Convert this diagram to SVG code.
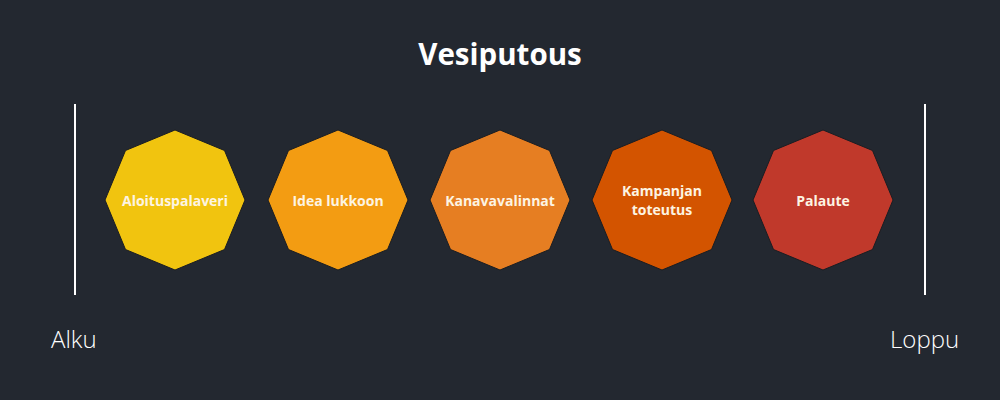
<svg xmlns="http://www.w3.org/2000/svg" width="1000" height="400" viewBox="0 0 1000 400">
<style>
.bg{fill:#232830}
.oct{stroke:#1a1d22;stroke-width:1}
.lbl{font-family:"Open Sans","Liberation Sans",sans-serif;font-weight:bold;font-size:14px;fill:#fdf4e3;text-anchor:middle}
.title{font-family:"Open Sans","Liberation Sans",sans-serif;font-weight:bold;font-size:29.5px;fill:#ffffff;text-anchor:middle}
.side{font-family:"Open Sans","Liberation Sans",sans-serif;font-weight:300;font-size:24px;fill:#ffffff}
.bar{stroke:#ffffff;stroke-width:2}
</style>
<defs>
<polygon id="octagon" points="0,-70 49.5,-49.5 70,0 49.5,49.5 0,70 -49.5,49.5 -70,0 -49.5,-49.5"/>
</defs>
<rect class="bg" width="1000" height="400"/>
<text class="title" x="500" y="65">Vesiputous</text>
<g id="connectors">
<line class="bar" x1="75" y1="104" x2="75" y2="295"/>
<line class="bar" x1="925" y1="104" x2="925" y2="295"/>
</g>
<g id="alku"><text class="side" x="51" y="348">Alku</text></g>
<g id="loppu"><text class="side" x="890" y="348">Loppu</text></g>
<g id="n1" transform="translate(175,200)">
<use href="#octagon" class="oct" fill="#f1c40f"/>
<text class="lbl" y="6">Aloituspalaveri</text>
</g>
<g id="n2" transform="translate(338,200)">
<use href="#octagon" class="oct" fill="#f39c12"/>
<text class="lbl" y="6">Idea lukkoon</text>
</g>
<g id="n3" transform="translate(500,200)">
<use href="#octagon" class="oct" fill="#e67e22"/>
<text class="lbl" y="6">Kanavavalinnat</text>
</g>
<g id="n4" transform="translate(662,200)">
<use href="#octagon" class="oct" fill="#d35400"/>
<text class="lbl" y="-4">Kampanjan</text>
<text class="lbl" y="15">toteutus</text>
</g>
<g id="n5" transform="translate(823,200)">
<use href="#octagon" class="oct" fill="#c0392b"/>
<text class="lbl" y="6">Palaute</text>
</g>
</svg>
